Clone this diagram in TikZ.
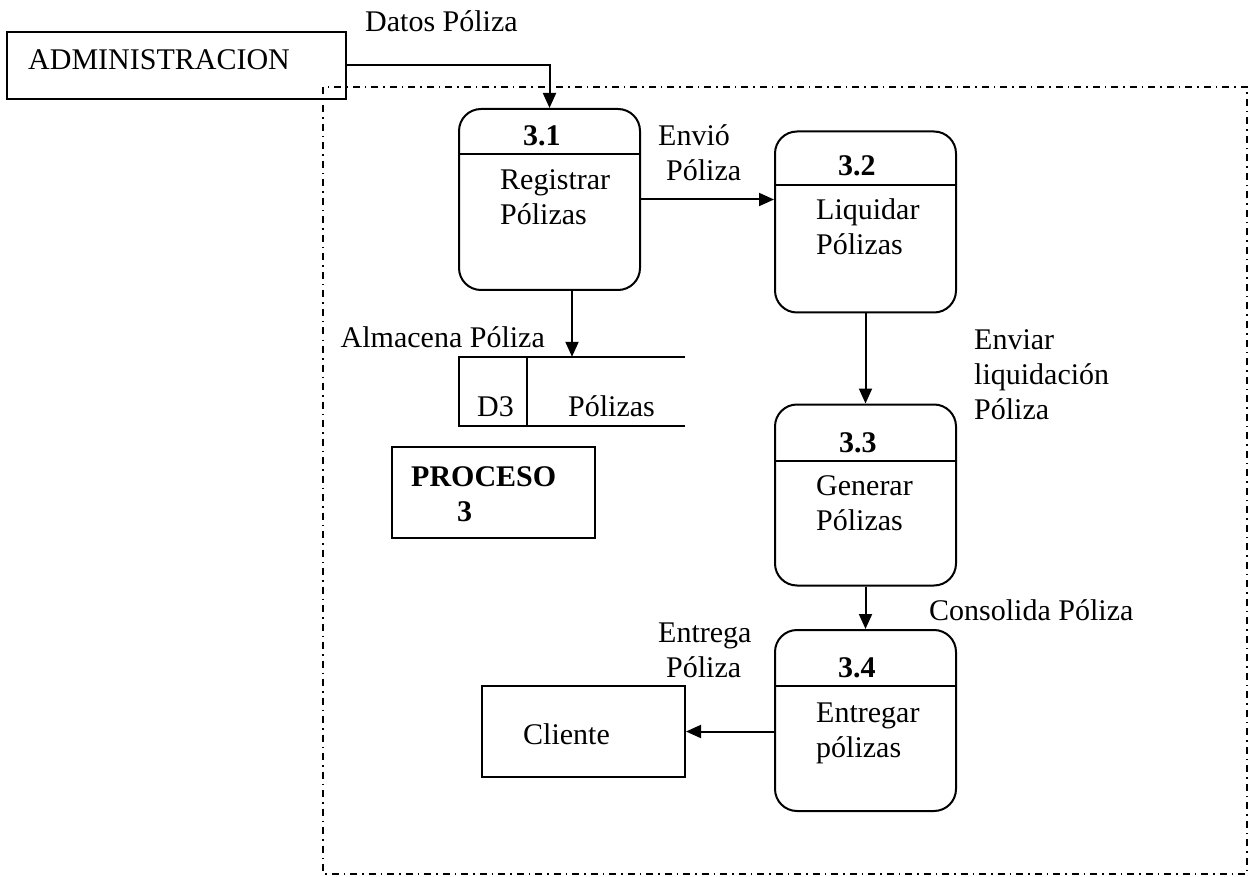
\documentclass[tikz,border=0pt]{standalone}
\usepackage{fontspec}
\setmainfont{Liberation Serif}
\usepackage{tikz}
\usetikzlibrary{arrows.meta}

\tikzset{
  proceso/.style={draw, line width=2pt, rounded corners=22pt, minimum width=181pt, minimum height=181pt, inner sep=0pt},
  entidad/.style={draw, line width=2pt, inner sep=0pt},
  flujo/.style={line width=2pt, -{Triangle[length=15pt,width=13pt]}},
  texto/.style={anchor=base west, inner sep=0pt, align=left},
  frontera/.style={line width=1.5pt, dash pattern=on 7pt off 5pt on 1.5pt off 5pt}
}

\begin{document}
\begin{tikzpicture}[x=1pt, y=-1pt, font=\fontsize{30}{35}\selectfont]
\useasboundingbox (0,0) rectangle (1253,877);
% frontera del proceso 3
\draw[frontera] (323,87) rectangle (1247,874);

% entidades y almacen
\node[entidad, minimum width=339pt, minimum height=67pt] (admin) at (176.5,65.5) {};
\node[texto] (adminTxt) at (28,70) {ADMINISTRACION};
\node[entidad, minimum width=203pt, minimum height=91pt] (cliente) at (583.5,731.5) {};
\node[texto] (clienteTxt) at (523,744) {Cliente};
\node[entidad, minimum width=203pt, minimum height=91pt] (proc) at (493.5,492.5) {};
\node[texto, font=\fontsize{30}{35}\selectfont\bfseries] (procTxt) at (411,521) {PROCESO\\\hspace*{46pt}3};
\node[minimum width=226pt, minimum height=69pt, inner sep=0pt] (almacen) at (572,391.5) {};
\draw[line width=1.8pt] (almacen.north east) -- (almacen.north west) -- (almacen.south west) -- (almacen.south east);
\draw[line width=1.8pt] ([xshift=68pt]almacen.north west) -- ([xshift=68pt]almacen.south west);
\node[texto] (d3) at (477,416) {D3};
\node[texto] (almTxt) at (568,416) {Pólizas};

% procesos
\node[proceso] (p31) at (549.5,199.5) {};
\node[proceso] (p32) at (865.5,222) {};
\node[proceso] (p33) at (865.5,495) {};
\node[proceso] (p34) at (865.5,720.5) {};
\draw[line width=1.8pt] (p31.west |- 0,154) -- (p31.east |- 0,154);
\draw[line width=1.8pt] (p32.west |- 0,185) -- (p32.east |- 0,185);
\draw[line width=1.8pt] (p33.west |- 0,461) -- (p33.east |- 0,461);
\draw[line width=1.8pt] (p34.west |- 0,686) -- (p34.east |- 0,686);
\node[texto, font=\fontsize{30}{35}\selectfont\bfseries] (n31) at (523,146) {3.1};
\node[texto, font=\fontsize{30}{35}\selectfont\bfseries] (n32) at (838,176) {3.2};
\node[texto, font=\fontsize{30}{35}\selectfont\bfseries] (n33) at (839,452) {3.3};
\node[texto, font=\fontsize{30}{35}\selectfont\bfseries] (n34) at (838,677) {3.4};
\node[texto] (t31) at (500,225) {Registrar\\Pólizas};
\node[texto] (t32) at (816,255) {Liquidar\\Pólizas};
\node[texto] (t33) at (816,530) {Generar\\Pólizas};
\node[texto] (t34) at (816,757) {Entregar\\pólizas};

% flujos de datos
\draw[flujo] (admin.east) -| (p31.north);
\draw[flujo] (p31.east) -- (p31.east -| p32.west);
\draw[flujo] (p31.south -| almacen.north) -- (almacen.north);
\draw[flujo] (p32.south) -- (p33.north);
\draw[flujo] (p33.south) -- (p34.north);
\draw[flujo] (p34.west |- cliente.east) -- (cliente.east);
\node[texto] (f1) at (365,32) {Datos Póliza};
\node[texto] (f2) at (658,181) {Envió\\\hspace*{8pt}Póliza};
\node[texto, anchor=base east] (f3) at (545,348) {Almacena Póliza};
\node[texto] (f4) at (974,419) {Enviar\\liquidación\\Póliza};
\node[texto] (f5) at (929,620) {Consolida Póliza};
\node[texto] (f6) at (658,677) {Entrega\\\hspace*{8pt}Póliza};
\end{tikzpicture}
\end{document}
